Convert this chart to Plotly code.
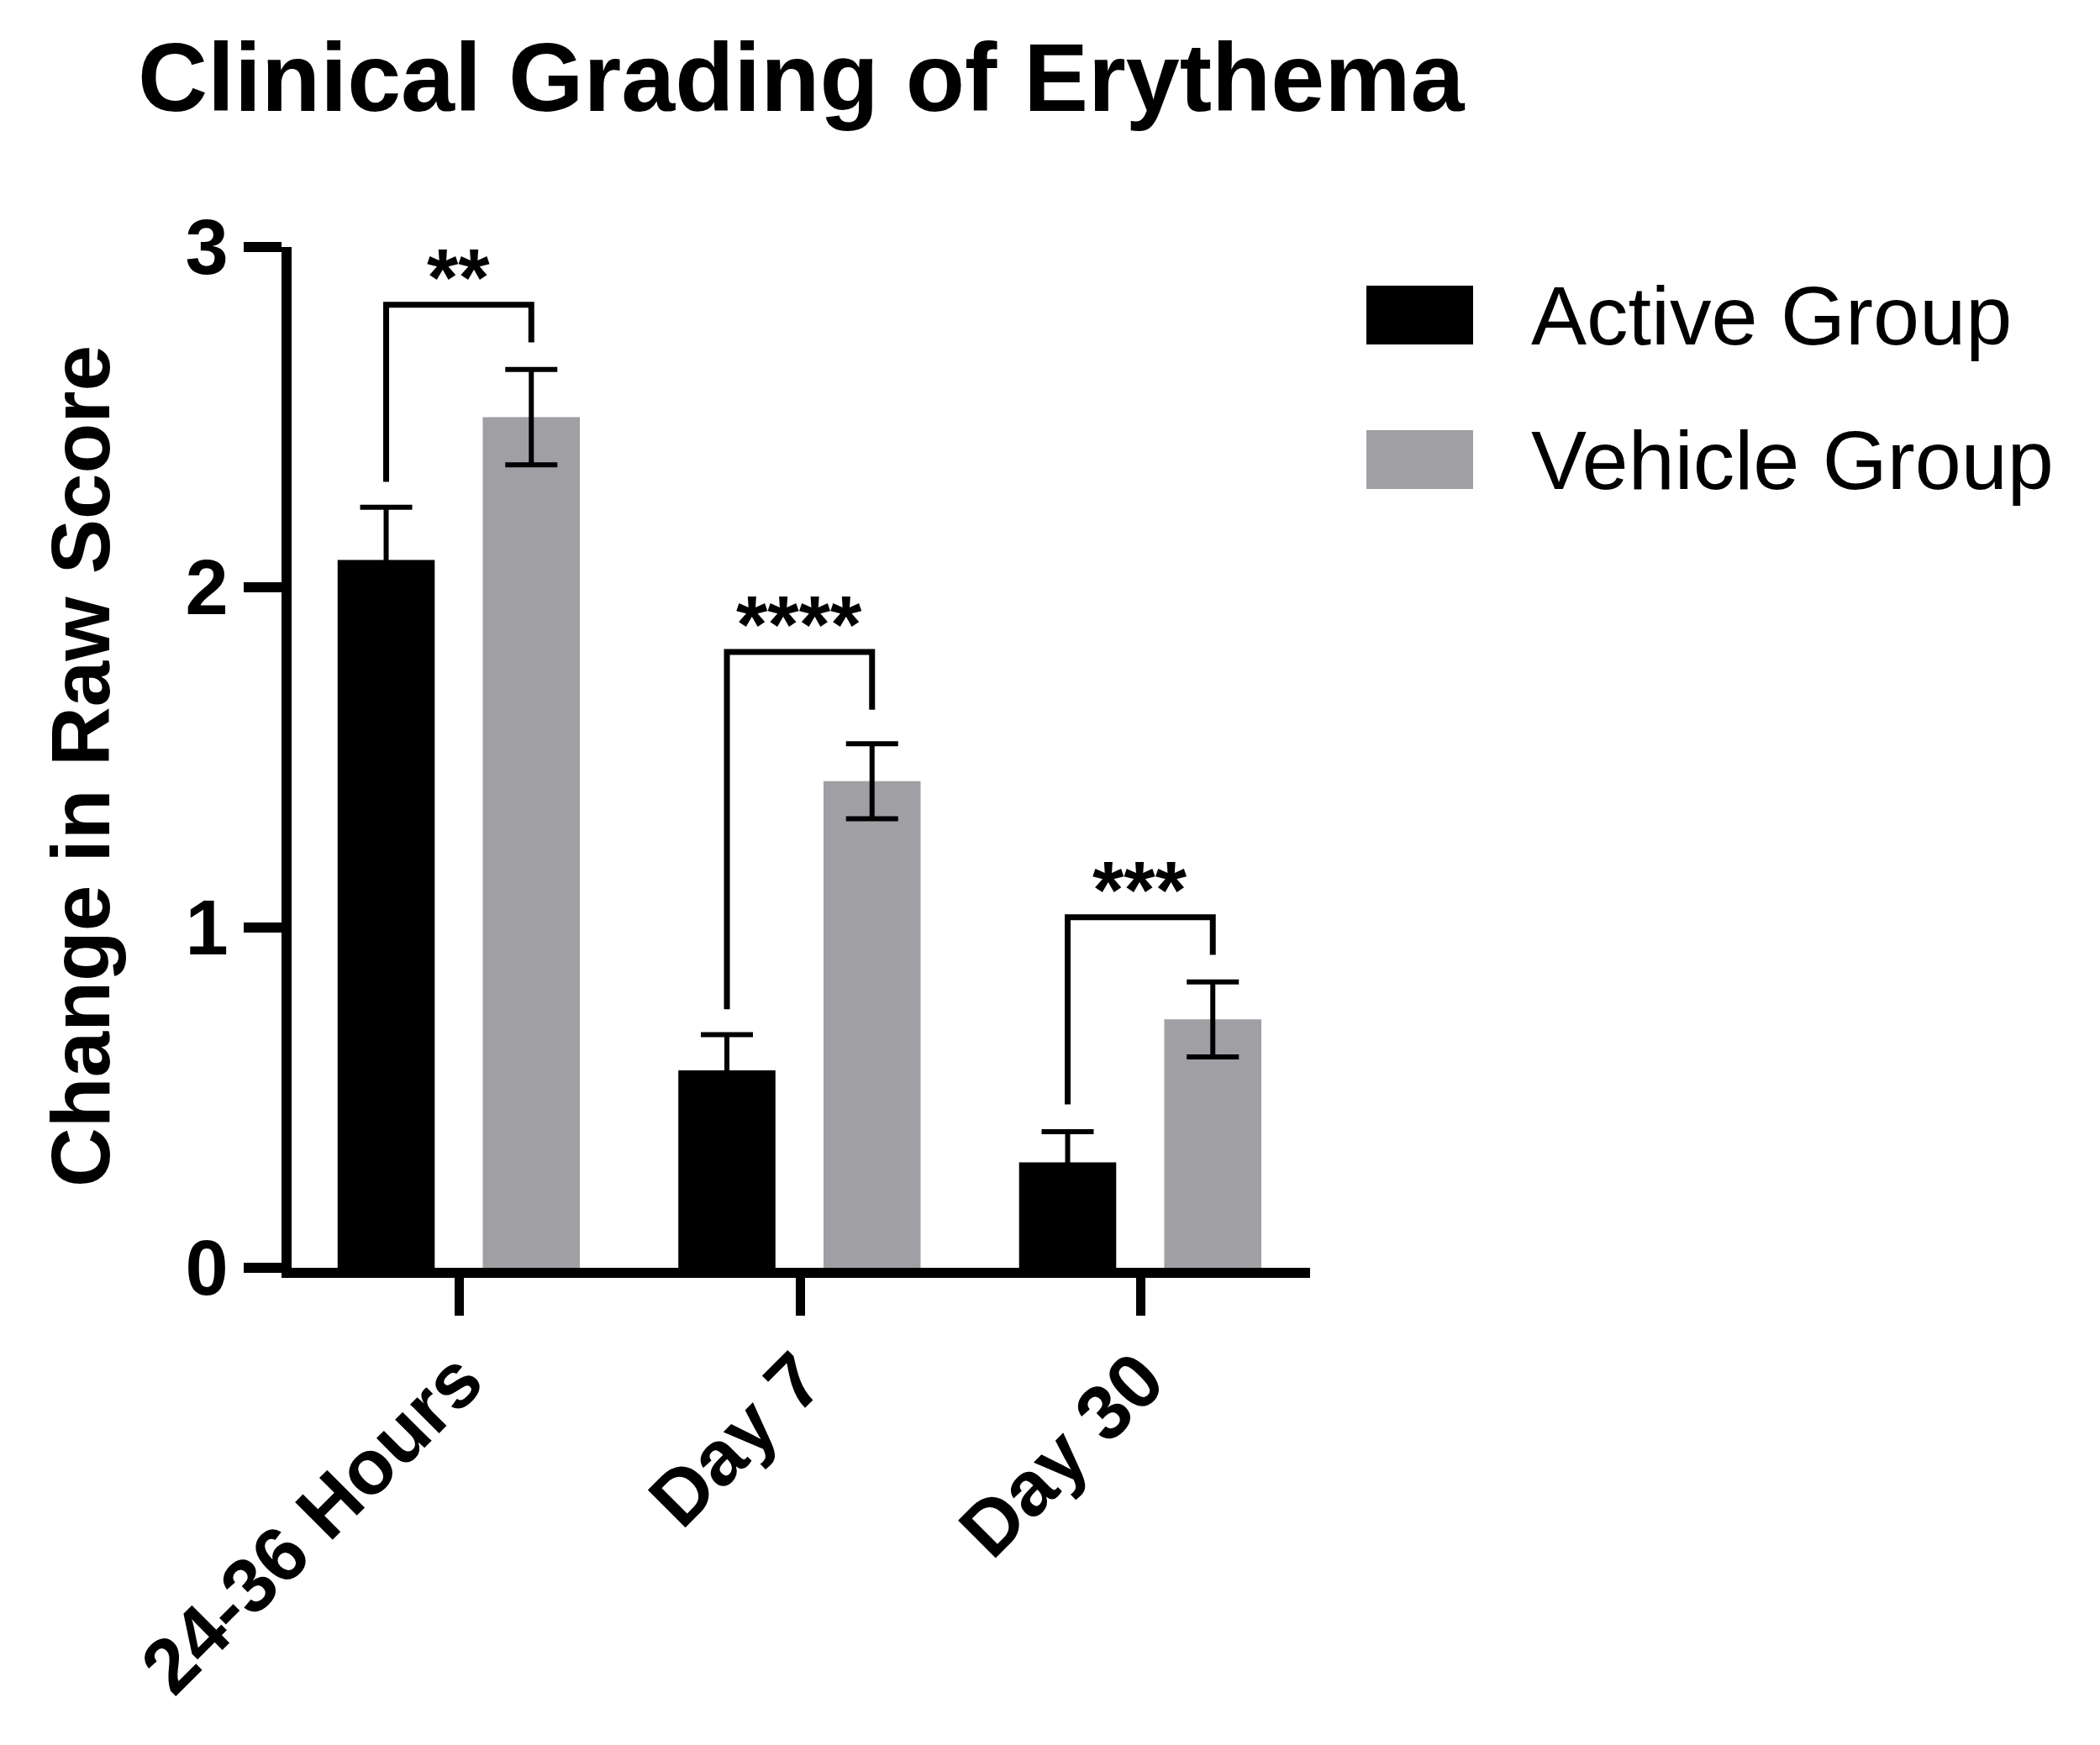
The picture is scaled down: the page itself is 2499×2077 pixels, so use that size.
import plotly.graph_objects as go

# ---------------- data ----------------
categories = ["24-36 Hours", "Day 7", "Day 30"]
active_mean = [2.08, 0.58, 0.31]
active_err = [0.155, 0.105, 0.09]
vehicle_mean = [2.50, 1.43, 0.73]
vehicle_err = [0.14, 0.11, 0.11]
sig_labels = ["**", "****", "***"]
bracket_top = [2.83, 1.81, 1.03]
bracket_left_end = [2.31, 0.76, 0.48]
bracket_right_end = [2.72, 1.64, 0.92]
y_ticks = [0, 1, 2, 3]

series_names = ["Active Group", "Vehicle Group"]
series_colors = ["#000000", "#a09fa4"]

FONT = "Liberation Sans, Arial, Helvetica, sans-serif"
W, H = 2499, 2077
L, R, T, B = 347, 940, 294, 568
BAR_W = 0.285
OFFSETS = [-0.358, 0.068]

xpos = list(range(len(categories)))

fig = go.Figure()
for name, color, means, errs, off in zip(series_names, series_colors,
                                          [active_mean, vehicle_mean],
                                          [active_err, vehicle_err], OFFSETS):
    fig.add_trace(go.Bar(
        x=xpos, y=means, name=name, width=BAR_W, offset=off,
        marker=dict(color=color, line=dict(width=0)),
        error_y=dict(type="data", array=errs, visible=True,
                     color="#000000", thickness=6, width=31),
        showlegend=False,
    ))

# significance brackets
xa_c = OFFSETS[0] + BAR_W / 2
xv_c = OFFSETS[1] + BAR_W / 2
for i, lab in enumerate(sig_labels):
    fig.add_trace(go.Scatter(
        x=[i + xa_c, i + xa_c, i + xv_c, i + xv_c],
        y=[bracket_left_end[i], bracket_top[i], bracket_top[i], bracket_right_end[i]],
        mode="lines", line=dict(color="#000000", width=7),
        showlegend=False, hoverinfo="skip",
    ))
    fig.add_annotation(
        x=i + (xa_c + xv_c) / 2, y=bracket_top[i], xref="x", yref="y",
        text="<b>" + lab + "</b>", showarrow=False, yanchor="bottom", yshift=-22,
        font=dict(family=FONT, size=96, color="#000000"),
    )

pw = W - L - R
ph = H - T - B

def px_to_paper_x(px):
    return (px - L) / pw

def px_to_paper_y(py):
    return (H - B - py) / ph

# manual legend
leg_rows_y = [375, 547]
for name, color, cy in zip(series_names, series_colors, leg_rows_y):
    fig.add_shape(type="rect", xref="paper", yref="paper",
                  x0=px_to_paper_x(1626), x1=px_to_paper_x(1753),
                  y0=px_to_paper_y(cy + 35), y1=px_to_paper_y(cy - 35),
                  fillcolor=color, line=dict(width=0))
    fig.add_annotation(x=px_to_paper_x(1820), y=px_to_paper_y(cy), xref="paper", yref="paper",
                       text=name, showarrow=False, xanchor="left", yanchor="middle",
                       font=dict(family=FONT, size=99, color="#000000"))

# y axis title
fig.add_annotation(x=px_to_paper_x(96), y=px_to_paper_y(912), xref="paper", yref="paper",
                   text="<b>Change in Raw Score</b>", textangle=-90, showarrow=False,
                   xanchor="center", yanchor="middle",
                   font=dict(family=FONT, size=98, color="#000000"))

fig.update_layout(
    width=W, height=H,
    margin=dict(l=L, r=R, t=T, b=B, autoexpand=False),
    paper_bgcolor="white", plot_bgcolor="white",
    barmode="overlay",
    title=dict(text="<b>Clinical Grading of Erythema</b>", x=164 / W, xanchor="left",
               xref="container", yref="container", y=1 - 92 / H, yanchor="middle",
               font=dict(family=FONT, size=115, color="#000000")),
    font=dict(family=FONT, color="#000000"),
)
fig.update_xaxes(
    range=[-0.493, 2.496], tickmode="array", tickvals=xpos, ticktext=categories,
    tickangle=-45, showline=True, linecolor="#000000", linewidth=12,
    ticks="outside", ticklen=45, tickwidth=11, tickcolor="#000000",
    ticklabelstandoff=-14,
    showgrid=False, zeroline=False,
    tickfont=dict(family=FONT, size=92, color="#000000", weight="bold"),
)
fig.update_yaxes(
    range=[0, 3], tickmode="array", tickvals=y_ticks, ticktext=[str(v) for v in y_ticks],
    showline=True, linecolor="#000000", linewidth=12,
    ticks="outside", ticklen=45, tickwidth=12, tickcolor="#000000",
    showgrid=False, zeroline=False,
    tickfont=dict(family=FONT, size=92, color="#000000", weight="bold"),
)

fig.write_html("out.html")
